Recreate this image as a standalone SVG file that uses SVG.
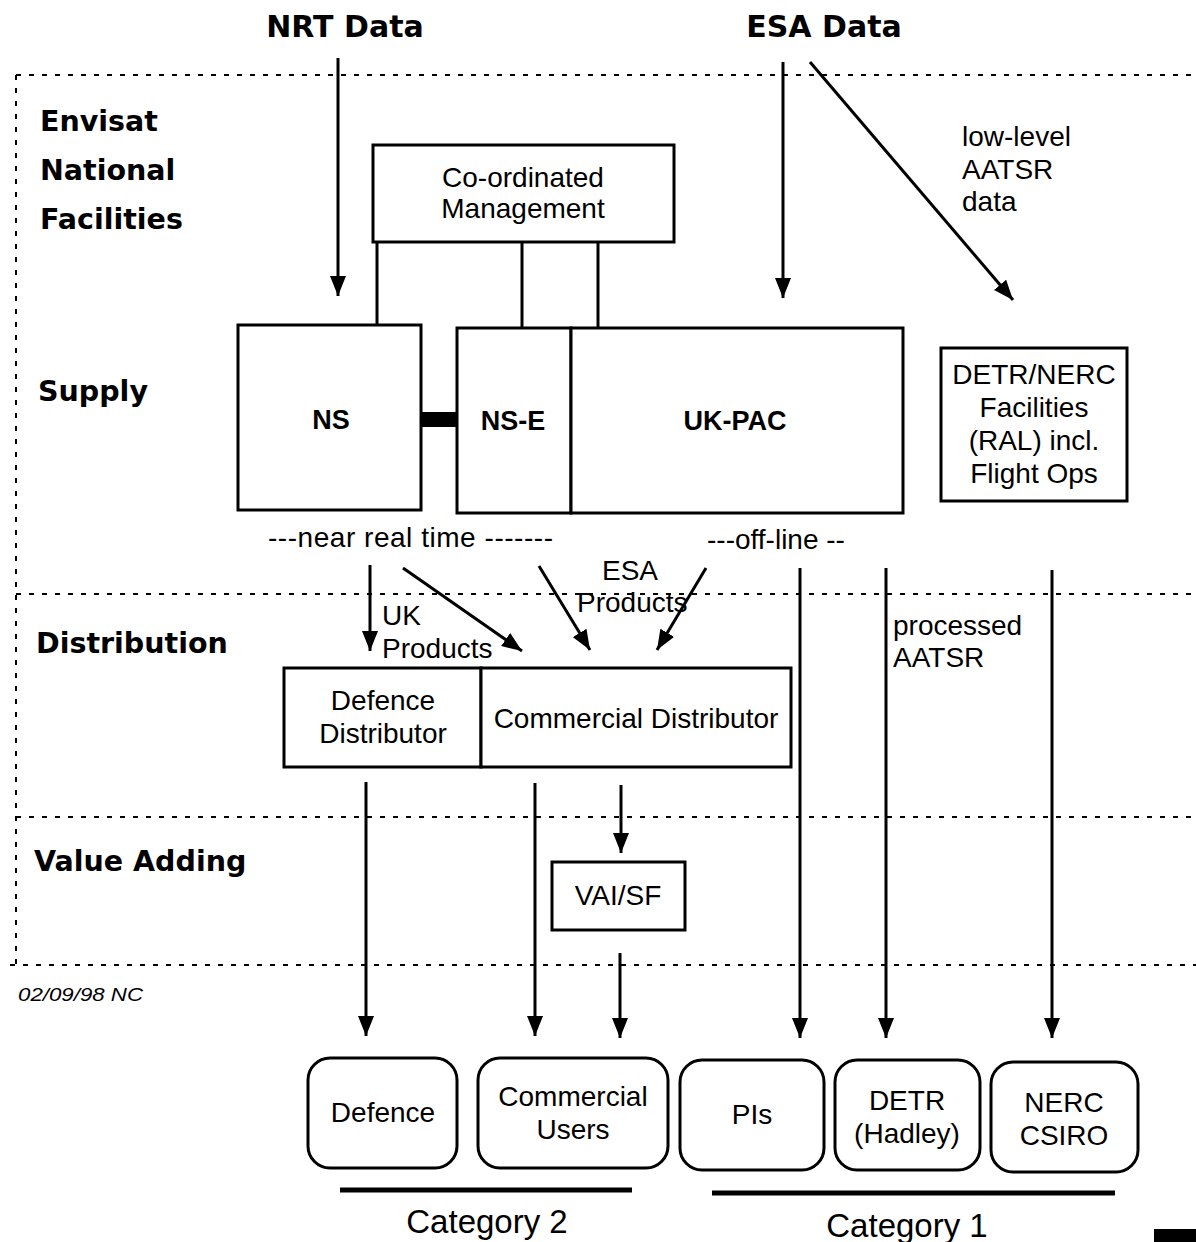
<svg xmlns="http://www.w3.org/2000/svg" width="1196" height="1242" viewBox="0 0 1196 1242">
  <style>
    .bg { fill: #ffffff; }
    .box { fill: #ffffff; stroke: #000; stroke-width: 3; }
    .line { stroke: #000; stroke-width: 3; fill: none; }
    .arrow { stroke: #000; stroke-width: 3; fill: none; marker-end: url(#head); }
    .dash { stroke: #000; stroke-width: 2; fill: none; stroke-dasharray: 5 8; }
    .head { font-family: "DejaVu Sans", sans-serif; font-weight: bold; font-size: 30px; fill: #000; }
    .band { font-family: "DejaVu Sans", sans-serif; font-weight: bold; font-size: 28.5px; fill: #000; }
    .lbl { font-family: "Liberation Sans", Arial, sans-serif; font-size: 28px; fill: #000; }
    .mid { text-anchor: middle; }
    .bold { font-family: "Liberation Sans", Arial, sans-serif; font-weight: bold; font-size: 27px; fill: #000; text-anchor: middle; }
    .cat { font-family: "Liberation Sans", Arial, sans-serif; font-size: 33px; fill: #000; text-anchor: middle; }
  </style>
  <defs>
    <marker id="head" viewBox="0 0 20 16" refX="20" refY="8" markerWidth="20" markerHeight="16" markerUnits="userSpaceOnUse" orient="auto">
      <path d="M0,0 L20,8 L0,16 z" fill="#000"/>
    </marker>
  </defs>
  <rect class="bg" x="0" y="0" width="1196" height="1242"/>

  <!-- Section frame and band separators -->
  <g id="frame">
    <path class="dash" d="M16,75 H1196"/>
    <path class="dash" d="M16,75 V965"/>
    <path class="dash" d="M16,594 H1196"/>
    <path class="dash" d="M16,817 H1196"/>
    <path class="dash" d="M10,965 H1196"/>
  </g>

  <!-- Band titles and source headings -->
  <g id="titles">
    <text class="head mid" x="345" y="37">NRT Data</text>
    <text class="head mid" x="824" y="37">ESA Data</text>
    <text class="band" x="40" y="131">Envisat</text>
    <text class="band" x="40" y="180">National</text>
    <text class="band" x="40" y="229">Facilities</text>
    <text class="band" x="38" y="401">Supply</text>
    <text class="band" x="36" y="653">Distribution</text>
    <text class="band" x="34" y="871">Value Adding</text>
    <text x="18" y="1001" font-family="Liberation Sans, Arial, sans-serif" font-style="italic" font-size="18" textLength="125" lengthAdjust="spacingAndGlyphs">02/09/98 NC</text>
  </g>

  <!-- Connectors -->
  <g id="connectors">
    <path class="arrow" d="M338,58 V296"/>
    <path class="arrow" d="M783,62 V298"/>
    <path class="arrow" d="M810,62 L1013,300"/>
    <path class="line" d="M377,242 V325"/>
    <path class="line" d="M522,242 V328"/>
    <path class="line" d="M598,242 V328"/>
    <rect x="421" y="412" width="36" height="15" fill="#000"/>
    <path class="arrow" d="M370,565 V651"/>
    <path class="arrow" d="M403,568 L522,651"/>
    <path class="arrow" d="M539,566 L590,650"/>
    <path class="arrow" d="M706,568 L657,650"/>
    <path class="arrow" d="M800,568 V1038"/>
    <path class="arrow" d="M886,568 V1038"/>
    <path class="arrow" d="M1052,570 V1038"/>
    <path class="arrow" d="M366,782 V1036"/>
    <path class="arrow" d="M535,783 V1036"/>
    <path class="arrow" d="M621,785 V853"/>
    <path class="arrow" d="M620,953 V1038"/>
  </g>

  <!-- Connector labels -->
  <g id="connector-labels">
    <text class="lbl" x="962" y="146">low-level</text>
    <text class="lbl" x="962" y="179">AATSR</text>
    <text class="lbl" x="962" y="211">data</text>
    <text class="lbl" x="268" y="547" textLength="285" lengthAdjust="spacing">---near real time -------</text>
    <text class="lbl" x="707" y="549">---off-line --</text>
    <text class="lbl" x="382" y="625">UK</text>
    <text class="lbl" x="382" y="658">Products</text>
    <text class="lbl" x="602" y="580">ESA</text>
    <text class="lbl" x="577" y="612">Products</text>
    <text class="lbl" x="893" y="635">processed</text>
    <text class="lbl" x="893" y="667">AATSR</text>
  </g>

  <g id="coordinated-management">
    <rect class="box" x="373" y="145" width="301" height="97"/>
    <text class="lbl mid" x="523" y="187">Co-ordinated</text>
    <text class="lbl mid" x="523" y="218">Management</text>
  </g>

  <g id="ns">
    <rect class="box" x="238" y="325" width="183" height="185"/>
    <text class="bold" x="331" y="429">NS</text>
  </g>

  <g id="ns-e">
    <rect class="box" x="457" y="328" width="114" height="185"/>
    <text class="bold" x="513" y="430">NS-E</text>
  </g>

  <g id="uk-pac">
    <rect class="box" x="571" y="328" width="332" height="185"/>
    <text class="bold" x="735" y="430">UK-PAC</text>
  </g>

  <g id="detr-nerc-facilities">
    <rect class="box" x="941" y="348" width="186" height="153"/>
    <text class="lbl mid" x="1034" y="384">DETR/NERC</text>
    <text class="lbl mid" x="1034" y="417">Facilities</text>
    <text class="lbl mid" x="1034" y="450">(RAL) incl.</text>
    <text class="lbl mid" x="1034" y="483">Flight Ops</text>
  </g>

  <g id="defence-distributor">
    <rect class="box" x="284" y="668" width="197" height="99"/>
    <text class="lbl mid" x="383" y="710">Defence</text>
    <text class="lbl mid" x="383" y="743">Distributor</text>
  </g>

  <g id="commercial-distributor">
    <rect class="box" x="481" y="668" width="310" height="99"/>
    <text class="lbl mid" x="636" y="728">Commercial Distributor</text>
  </g>

  <g id="vai-sf">
    <rect class="box" x="552" y="862" width="133" height="68"/>
    <text class="lbl mid" x="618" y="905">VAI/SF</text>
  </g>

  <g id="defence">
    <rect class="box" x="308" y="1058" width="149" height="110" rx="22"/>
    <text class="lbl mid" x="383" y="1122">Defence</text>
  </g>

  <g id="commercial-users">
    <rect class="box" x="478" y="1058" width="190" height="110" rx="22"/>
    <text class="lbl mid" x="573" y="1106">Commercial</text>
    <text class="lbl mid" x="573" y="1139">Users</text>
  </g>

  <g id="pis">
    <rect class="box" x="680" y="1060" width="144" height="110" rx="22"/>
    <text class="lbl mid" x="752" y="1124">PIs</text>
  </g>

  <g id="detr-hadley">
    <rect class="box" x="835" y="1060" width="145" height="110" rx="22"/>
    <text class="lbl mid" x="907" y="1110">DETR</text>
    <text class="lbl mid" x="907" y="1143">(Hadley)</text>
  </g>

  <g id="nerc-csiro">
    <rect class="box" x="991" y="1062" width="147" height="110" rx="22"/>
    <text class="lbl mid" x="1064" y="1112">NERC</text>
    <text class="lbl mid" x="1064" y="1145">CSIRO</text>
  </g>

  <!-- Category groupings -->
  <g id="categories">
    <path d="M340,1190 H632" stroke="#000" stroke-width="5"/>
    <path d="M712,1193 H1115" stroke="#000" stroke-width="5"/>
    <text class="cat" x="487" y="1233">Category 2</text>
    <text class="cat" x="907" y="1237">Category 1</text>
  </g>

  <rect x="1154" y="1229" width="42" height="13" fill="#000"/>
</svg>
